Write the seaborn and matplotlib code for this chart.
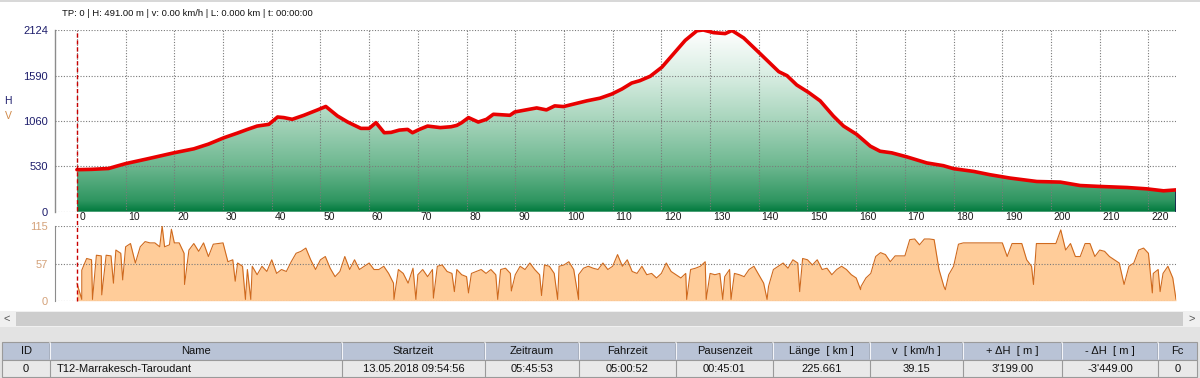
import matplotlib
matplotlib.use("Agg")
import matplotlib.pyplot as plt
import matplotlib.transforms as mtransforms
from matplotlib.colors import LinearSegmentedColormap
from matplotlib.patches import Rectangle
from matplotlib.lines import Line2D
import numpy as np
import seaborn as sns

# ---- elevation profile (km, m) ----
elev_km = [0, 3, 6.5, 8, 10, 14.4, 19.9, 24, 27, 30.2, 33, 35, 37, 39.4, 41.2, 42.5,
           44.2, 46.6, 49.4, 51.1, 53.5, 55.6, 58.3, 60, 61.4, 63.1, 64.5, 66.2, 67.9,
           68.9, 70.3, 72, 74.6, 76.8, 78, 79, 80.4, 82.4, 84.1, 85.5, 88.9, 89.9, 94.4,
           96.4, 98.1, 99.9, 101.9, 104.7, 107.4, 109.8, 111.9, 113.9, 115.6, 117.7,
           120.1, 122.5, 124.9, 127.3, 128.6, 130.7, 133.1, 134.5, 136.9, 140.3, 144.1,
           145.8, 147.8, 150.2, 152.6, 155.3, 157.4, 160.1, 162.9, 164.9, 167.3, 170.4,
           174.5, 177.9, 180, 184.1, 187.5, 191.6, 197.1, 201.9, 206, 210.1, 215.6,
           219.7, 223.1, 225.661]
elev_m = [491, 495, 505, 530, 562, 617, 688, 735, 790, 865, 920, 962, 1001, 1021, 1107, 1100,
          1080, 1127, 1190, 1230, 1119, 1048, 974, 974, 1041, 923, 927, 954, 962,
          923, 962, 1001, 983, 993, 1009, 1041, 1100, 1048, 1080, 1139, 1127, 1166, 1213,
          1190, 1237, 1229, 1257, 1296, 1327, 1375, 1434, 1504, 1532, 1583,
          1689, 1846, 2003, 2115, 2124, 2093, 2082, 2118, 2031, 1846, 1637,
          1590, 1481, 1395, 1296, 1119, 1001, 904, 766, 707, 688, 641,
          570, 538, 503, 471, 432, 393, 353, 346, 306, 295, 283,
          267, 244, 255]

# ---- speed profile (km/h), one reading per km plus spikes/dips ----
speed_km = list(range(0, 226)) + [225.661]
speed_kmh = [27, 47, 65, 63, 70, 69, 70, 69, 78, 73,
             83, 88, 58, 83, 91, 89, 89, 83, 83, 86,
             89, 89, 73, 78, 88, 76, 89, 68, 87, 88,
             89, 60, 63, 58, 53, 48, 53, 40, 53, 45,
             63, 42, 48, 45, 60, 73, 76, 81, 63, 48,
             63, 68, 50, 37, 45, 68, 48, 63, 48, 53,
             58, 48, 48, 53, 42, 27, 48, 42, 27, 50,
             40, 48, 37, 48, 53, 55, 45, 42, 48, 40,
             37, 42, 45, 48, 42, 48, 40, 48, 50, 42,
             40, 53, 48, 58, 48, 40, 55, 53, 42, 53,
             55, 60, 48, 40, 50, 53, 50, 48, 58, 48,
             53, 71, 53, 63, 45, 42, 53, 40, 42, 35,
             42, 58, 45, 40, 35, 42, 48, 50, 53, 60,
             42, 40, 42, 37, 48, 42, 40, 37, 48, 53,
             40, 27, 22, 48, 53, 58, 50, 63, 58, 65,
             63, 55, 63, 48, 50, 40, 48, 53, 48, 40,
             35, 22, 35, 42, 68, 74, 71, 60, 69, 69,
             69, 94, 95, 86, 95, 95, 94, 48, 22, 40,
             53, 87, 89, 89, 89, 89, 89, 89, 89, 89,
             89, 68, 88, 88, 88, 63, 53, 88, 88, 88,
             88, 88, 109, 78, 88, 68, 68, 88, 88, 68,
             78, 76, 68, 63, 58, 25, 53, 58, 78, 81,
             73, 42, 48, 42, 53, 35,
             2]
spike_km = [1.0, 3.2, 5.1, 7.5, 9.4, 17.5, 19.4, 22.1, 32.5, 34.6,
            35.7, 65.1, 69.6, 73.2, 77.5, 80.4, 86.4, 89.2, 95.4, 98.7,
            103.0, 125.2, 129.2, 132.6, 134.3, 141.7, 148.4, 160.9, 178.3, 196.4,
            220.8, 222.4]
spike_kmh = [2, 2, 9, 27, 32, 115, 110, 25, 30, 2,
             2, 2, 2, 4, 14, 12, 2, 15, 8, 2,
             2, 2, 2, 2, 2, 2, 14, 17, 17, 25,
             12, 14]

elev_ticks = [0, 530, 1060, 1590, 2124]
speed_ticks = [0, 57, 115]
km_ticks = list(range(0, 230, 10))

header_text = "TP: 0 | H: 491.00 m | v: 0.00 km/h | L: 0.000 km | t: 00:00:00"
table_cols = ["ID", "Name", "Startzeit", "Zeitraum", "Fahrzeit", "Pausenzeit",
              "Länge  [ km ]", "v  [ km/h ]", "+ ΔH  [ m ]", "- ΔH  [ m ]", "Fc"]
table_row = ["0", "T12-Marrakesch-Taroudant", "13.05.2018 09:54:56", "05:45:53",
             "05:00:52", "00:45:01", "225.661", "39.15", "3'199.00", "-3'449.00", "0"]
# column edges in pixels (layout only)
col_edges = [2, 50, 342, 485, 579, 676, 773, 870, 963, 1062, 1158, 1197]

sns.set_style("white")
plt.rcParams['font.family'] = ['Liberation Sans', 'DejaVu Sans']

W, H = 1200, 378
fig = plt.figure(figsize=(12, 3.78), dpi=100)
fig.patch.set_facecolor('white')


def fx(px):
    return px / W


def fy(py):
    return 1 - py / H


ax1 = fig.add_axes([fx(55), fy(211.7), fx(1121), (211.7 - 30) / H])
ax2 = fig.add_axes([fx(55), fy(300.7), fx(1121), (300.7 - 226) / H])
xmin, xmax = -4.5, elev_km[-1]

# ---------------- elevation ----------------
poly = ax1.fill_between(elev_km, elev_m, 0, color='none', lw=0)
cmap = LinearSegmentedColormap.from_list(
    'hgrad', [(0, '#007a3d'), (0.06, '#2e9560'), (0.25, '#6cb78f'),
              (0.5, '#a6d4bb'), (0.75, '#d8ede2'), (1, '#ffffff')])
grad = np.linspace(0, 1, 256).reshape(-1, 1)
im = ax1.imshow(grad, extent=(0, xmax, 0, 2124), origin='lower', aspect='auto',
                cmap=cmap, zorder=1, interpolation='bilinear')
im.set_clip_path(poly.get_paths()[0], transform=ax1.transData)
sns.lineplot(x=elev_km, y=elev_m, ax=ax1, color='#e80000', lw=2.6,
             estimator=None, zorder=4)
ax1.vlines(elev_km[-1], 0, elev_m[-1], color='#1a1a50', lw=1.2, zorder=3)

ax1.set_xlim(xmin, xmax)
ax1.set_ylim(0, 2124)
ax1.set_xticks(km_ticks)
ax1.set_yticks(elev_ticks)
ax1.set_xlabel('')
ax1.set_ylabel('')
ax1.grid(True, color='#7a7a7a', ls=(0, (1, 1.5)), lw=0.8)
ax1.set_axisbelow(False)
for s in ['top', 'right', 'bottom']:
    ax1.spines[s].set_visible(False)
ax1.spines['left'].set_color('#8c8c8c')
ax1.spines['left'].set_linewidth(1)
ax1.tick_params(axis='y', length=0, pad=5, labelsize=8, labelcolor='#1c1c6b')
ax1.tick_params(axis='x', direction='out', length=7, width=0.8, color='black',
                pad=-6.5, labelsize=7.5, labelcolor='#1a1a1a')
offset = mtransforms.ScaledTranslation(2 / 72, 0, fig.dpi_scale_trans)
for lbl in ax1.get_xticklabels():
    lbl.set_horizontalalignment('left')
    lbl.set_transform(lbl.get_transform() + offset)

# ---------------- speed ----------------
sp = sorted(zip(speed_km + spike_km, speed_kmh + spike_kmh))
sp_km = [p[0] for p in sp]
sp_v = [p[1] for p in sp]
ax2.fill_between(sp_km, sp_v, 0, color='#ffcc99', lw=0, zorder=1)
sns.lineplot(x=sp_km, y=sp_v, ax=ax2, color='#cf6a1e', lw=0.8,
             estimator=None, sort=False, zorder=3)
ax2.set_xlim(xmin, xmax)
ax2.set_ylim(0, 115)
ax2.set_xticks([])
ax2.set_yticks(speed_ticks)
ax2.set_xlabel('')
ax2.set_ylabel('')
ax2.grid(True, axis='y', color='#7a7a7a', ls=(0, (1, 1.5)), lw=0.8)
ax2.set_axisbelow(False)
for s in ['top', 'right', 'bottom']:
    ax2.spines[s].set_visible(False)
ax2.spines['left'].set_color('#8c8c8c')
ax2.tick_params(axis='y', length=0, pad=5, labelsize=8, labelcolor='#d4a27a')

# red dashed cursor at km 0 spanning both charts
blend = mtransforms.blended_transform_factory(ax1.transData, fig.transFigure)
fig.add_artist(Line2D([0, 0], [fy(301), fy(30)], transform=blend,
                      color='#c80000', ls=(0, (3, 2)), lw=1, zorder=5))

# labels
fig.text(fx(8), fy(101), 'H', color='#1c1c6b', fontsize=7.5, ha='center', va='center')
fig.text(fx(8), fy(116), 'V', color='#d08a4a', fontsize=7.5, ha='center', va='center')
fig.text(fx(62), fy(13), header_text, fontsize=6.8, va='center', color='#111111')

# top border
fig.add_artist(Rectangle((0, fy(2)), 1, 2 / H, transform=fig.transFigure,
                         facecolor='#d8d8d8', lw=0))

# ---------------- scrollbar ----------------
fig.add_artist(Rectangle((0, fy(327)), 1, 16 / H, transform=fig.transFigure,
                         facecolor='#f0f0f0', lw=0))
fig.add_artist(Rectangle((fx(16), fy(326)), fx(1167), 14 / H, transform=fig.transFigure,
                         facecolor='#cdcdcd', lw=0))
fig.text(fx(7), fy(319), '<', fontsize=8, ha='center', va='center', color='#555555')
fig.text(fx(1192), fy(319), '>', fontsize=8, ha='center', va='center', color='#555555')

# ---------------- table ----------------
fig.add_artist(Rectangle((0, 0), 1, fy(327), transform=fig.transFigure,
                         facecolor='#e3e3e3', lw=0))
head_top, head_bot, row_bot = 342, 360, 377
fig.add_artist(Rectangle((fx(col_edges[0]), fy(head_bot)), fx(col_edges[-1] - col_edges[0]),
                         (head_bot - head_top) / H, transform=fig.transFigure,
                         facecolor='#b9c3d6', edgecolor='#9a9a9a', lw=0.8))
fig.add_artist(Rectangle((fx(col_edges[0]), fy(row_bot)), fx(col_edges[-1] - col_edges[0]),
                         (row_bot - head_bot) / H, transform=fig.transFigure,
                         facecolor='#e9e9e9', edgecolor='#9a9a9a', lw=0.8))
for xe in col_edges[1:-1]:
    fig.add_artist(Line2D([fx(xe), fx(xe)], [fy(head_bot - 1), fy(head_top + 1)],
                          transform=fig.transFigure, color='white', lw=1.2))
    fig.add_artist(Line2D([fx(xe - 1), fx(xe - 1)], [fy(head_bot - 1), fy(head_top + 1)],
                          transform=fig.transFigure, color='#9aa3b5', lw=0.6))
    fig.add_artist(Line2D([fx(xe), fx(xe)], [fy(row_bot), fy(head_bot)],
                          transform=fig.transFigure, color='#9a9a9a', lw=0.8))

tfont = ['Liberation Sans Narrow', 'Liberation Sans', 'DejaVu Sans']
for i, (hdr, val) in enumerate(zip(table_cols, table_row)):
    x0, x1 = col_edges[i], col_edges[i + 1]
    xc = (x0 + x1) / 2
    fig.text(fx(xc), fy(351), hdr, fontsize=8, ha='center', va='center',
             family=tfont, color='#111111')
    if i == 1:
        fig.text(fx(x0 + 7), fy(368.5), val, fontsize=8, ha='left', va='center',
                 family=tfont, color='#111111')
    else:
        fig.text(fx(xc), fy(368.5), val, fontsize=8, ha='center', va='center',
                 family=tfont, color='#111111')

fig.savefig('out.png', dpi=100)
